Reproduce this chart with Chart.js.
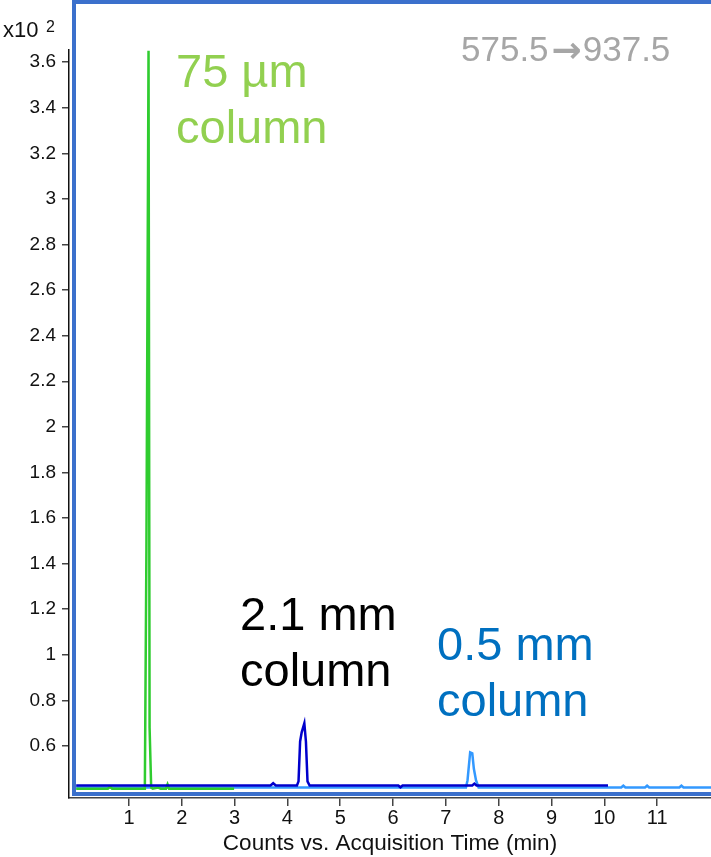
<!DOCTYPE html>
<html>
<head>
<meta charset="utf-8">
<script src="https://cdn.jsdelivr.net/npm/chart.js@4.4.1/dist/chart.umd.min.js"></script>
<style>
  html, body { margin: 0; padding: 0; background: #fff; }
  #wrap { width: 711px; height: 857px; position: relative; }
</style>
</head>
<body>
<div id="wrap"><canvas id="chart"></canvas></div>
<script>
const greenTime   = [0, 0.60, 0.64, 0.68, 1.30, 1.33, 1.37, 1.39, 1.42, 1.45, 1.55, 1.60, 1.70, 1.73, 1.76, 2.99];
const greenCounts = [0.413, 0.413, 0.422, 0.413, 0.413, 1.47, 3.65, 0.68, 0.418, 0.413, 0.418, 0.413, 0.413, 0.432, 0.413, 0.413];

const darkTime   = [0, 3.68, 3.73, 3.78, 4.18, 4.21, 4.24, 4.27, 4.32, 4.35, 4.38, 4.42, 6.10, 6.14, 6.18, 7.50, 7.54, 7.58, 10.07];
const darkCounts = [0.427, 0.427, 0.437, 0.427, 0.427, 0.445, 0.62, 0.66, 0.70, 0.62, 0.445, 0.427, 0.427, 0.419, 0.427, 0.427, 0.435, 0.427, 0.427];

const lightTime   = [0, 7.38, 7.41, 7.43, 7.46, 7.50, 7.53, 7.57, 7.62, 10.32, 10.36, 10.40, 10.77, 10.81, 10.85, 11.42, 11.46, 11.50, 12.02];
const lightCounts = [0.418, 0.418, 0.45, 0.50, 0.572, 0.568, 0.50, 0.45, 0.418, 0.418, 0.426, 0.418, 0.418, 0.426, 0.418, 0.418, 0.426, 0.418, 0.418];

const xTicks = [1, 2, 3, 4, 5, 6, 7, 8, 9, 10, 11];
const yTicks = [0.6, 0.8, 1, 1.2, 1.4, 1.6, 1.8, 2, 2.2, 2.4, 2.6, 2.8, 3, 3.2, 3.4, 3.6];

const seriesLabels = ['75 µm column', '2.1 mm column', '0.5 mm column'];
const transitionParts = ['575.5', '\u2192', '937.5'];

// --- cores ---
const colors = {
    green: '#2fcc2f',
    dark: '#0000cc',
    light: '#3399ff',
    frame: '#3b70cc',
    greenText: '#92d050',
    blueText: '#0070c0',
    grayText: '#a6a6a6',
};

const toPoints = (xs, ys) => xs.map((x, i) => ({ x: x, y: ys[i] }));

const makeSet = (label, xs, ys, color, order) => ({
    label: label,
    data: toPoints(xs, ys),
    borderColor: color,
    borderWidth: 2.5,
    pointRadius: 0,
    tension: 0,
    fill: false,
    order: order,
});

// contorno branco por baixo de cada traço
const makeHalo = (xs, ys, order) => ({
    label: '',
    data: toPoints(xs, ys),
    borderColor: '#ffffff',
    borderWidth: 5,
    pointRadius: 0,
    tension: 0,
    fill: false,
    order: order,
});

// moldura azul e textos
const decorPlugin = {
    id: 'decor',
    afterDraw(chart) {
        const ctx = chart.ctx;
        const area = chart.chartArea;
        ctx.save();
        ctx.strokeStyle = colors.frame;
        ctx.lineWidth = 4;
        ctx.strokeRect(area.left + 5, 2, area.right - area.left + 2, area.bottom - 4 - 2);

        ctx.textBaseline = 'alphabetic';
        ctx.textAlign = 'left';
        ctx.font = '47px "Liberation Sans", Arial, sans-serif';
        ctx.fillStyle = colors.greenText;
        ctx.fillText('75 µm', 176, 87);
        ctx.fillText('column', 176, 143);
        ctx.fillStyle = '#000000';
        ctx.fillText('2.1 mm', 240, 630);
        ctx.fillText('column', 240, 686);
        ctx.fillStyle = colors.blueText;
        ctx.fillText('0.5 mm', 437, 660);
        ctx.fillText('column', 437, 716);

        // 575.5→937.5 com seta mais larga
        ctx.fillStyle = colors.grayText;
        let x = 461;
        ctx.font = '35px "Liberation Sans", Arial, sans-serif';
        ctx.fillText(transitionParts[0], x, 61);
        x += ctx.measureText(transitionParts[0]).width + 3;
        ctx.font = 'bold 36px "DejaVu Sans", sans-serif';
        ctx.fillText(transitionParts[1], x, 62);
        x += ctx.measureText(transitionParts[1]).width + 1;
        ctx.font = '35px "Liberation Sans", Arial, sans-serif';
        ctx.fillText(transitionParts[2], x, 61);

        ctx.fillStyle = '#111111';
        ctx.font = '22px "Liberation Sans", Arial, sans-serif';
        ctx.fillText('x10', 3, 37);
        ctx.font = '16px "Liberation Sans", Arial, sans-serif';
        ctx.fillText('2', 46, 32);
        ctx.restore();
    }
};

const ctx = document.getElementById('chart').getContext('2d');
new Chart(ctx, {
    type: 'line',
    data: {
        datasets: [
            makeSet(seriesLabels[0], greenTime, greenCounts, colors.green, 1),
            makeSet(seriesLabels[2], lightTime, lightCounts, colors.light, 2),
            makeSet(seriesLabels[1], darkTime, darkCounts, colors.dark, 0),
            makeHalo(greenTime, greenCounts, 12),
            makeHalo(lightTime, lightCounts, 11),
            makeHalo(darkTime, darkCounts, 10),
        ]
    },
    options: {
        responsive: true,
        maintainAspectRatio: false,
        animation: false,
        layout: { padding: { top: 50, left: 0, right: 0, bottom: 0 } },
        plugins: {
            legend: { display: false },
            tooltip: { enabled: false },
        },
        scales: {
            x: {
                type: 'linear',
                min: -0.136,
                max: 12.02,
                afterBuildTicks: scale => { scale.ticks = xTicks.map(v => ({ value: v })); },
                afterFit: scale => { scale.height = 59; },
                grid: { drawOnChartArea: false, tickLength: 8, color: '#444', lineWidth: 1.5 },
                border: { color: '#444', width: 1.5 },
                ticks: {
                    color: '#111',
                    padding: 0,
                    maxRotation: 0,
                    font: { family: '"Liberation Sans", Arial, sans-serif', size: 20 },
                    callback: v => String(v),
                },
                title: {
                    display: true,
                    text: 'Counts vs. Acquisition Time (min)',
                    color: '#111',
                    padding: { top: 0, bottom: 0 },
                    font: { family: '"Liberation Sans", Arial, sans-serif', size: 22.5 },
                },
            },
            y: {
                type: 'linear',
                min: 0.372,
                max: 3.653,
                afterBuildTicks: scale => { scale.ticks = yTicks.map(v => ({ value: v })); },
                afterFit: scale => { scale.width = 69; },
                grid: { drawOnChartArea: false, tickLength: 7, color: '#444', lineWidth: 1.5 },
                border: { color: '#111', width: 1.5 },
                ticks: {
                    color: '#111',
                    padding: 6,
                    font: { family: '"Liberation Sans", Arial, sans-serif', size: 19 },
                    callback: v => String(Number(v.toFixed(1))),
                },
            },
        },
    },
    plugins: [decorPlugin],
});
</script>
</body>
</html>
